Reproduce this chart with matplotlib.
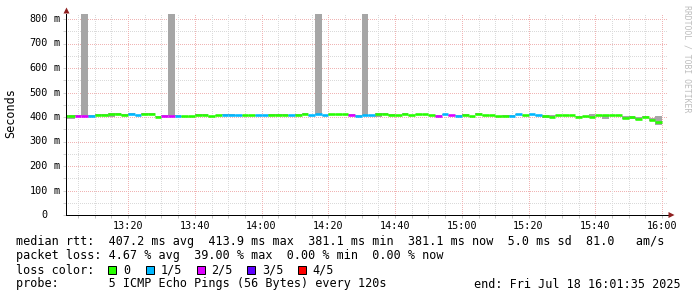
import matplotlib
matplotlib.use('Agg')
import matplotlib.pyplot as plt
from matplotlib.patches import Polygon, Rectangle
from matplotlib.transforms import IdentityTransform, offset_copy

# ---------------- data ----------------
step_minutes = 2                       # 120 s steps, minutes after 13:00
step_start = list(range(0, 180, 2))    # 90 steps 13:00 .. 15:58

median_ms = [406, 406, 406, 406, 405, 409, 409, 412, 412, 409,
             413, 407, 412, 412, 402, 406, 406, 406, 403, 403,
             407, 407, 403, 407, 410, 410, 407, 407, 407, 407,
             407, 407, 407, 407, 407, 409, 413, 407, 412, 407,
             411, 411, 411, 409, 405, 407, 407, 412, 412, 409,
             407, 412, 407, 411, 411, 407, 405, 411, 407, 406,
             408, 403, 413, 407, 407, 403, 405, 404, 411, 407,
             411, 407, 404, 400, 407, 407, 407, 402, 403, 402,
             407, 407, 407, 407, 397, 398, 392, 400, 388, 381]

loss_idx = [0, 0, 2, 2, 1, 0, 0, 0, 0, 0,
            1, 1, 0, 0, 0, 2, 2, 1, 0, 0,
            0, 0, 0, 0, 1, 1, 1, 0, 0, 1,
            1, 0, 0, 0, 1, 0, 0, 1, 1, 1,
            0, 0, 0, 2, 1, 1, 1, 0, 0, 0,
            0, 0, 0, 0, 0, 0, 2, 1, 2, 1,
            0, 0, 0, 0, 0, 0, 0, 1, 1, 0,
            1, 1, 0, 0, 0, 0, 0, 0, 0, 0,
            0, 0, 0, 0, 0, 0, 0, 0, 0, 0]

smoke_lo = [392, 392, 403, 404, 402, 406, 406, 401, 409, 406,
            410, 404, 409, 409, 399, 403, 404, 403, 400, 400,
            404, 404, 400, 404, 407, 407, 404, 404, 404, 404,
            404, 404, 404, 404, 404, 404, 410, 404, 409, 404,
            408, 408, 408, 406, 402, 404, 404, 401, 409, 406,
            404, 409, 404, 408, 408, 404, 402, 408, 404, 403,
            405, 400, 410, 404, 404, 400, 402, 401, 408, 404,
            408, 404, 396, 396, 404, 404, 404, 399, 400, 395,
            404, 393, 404, 404, 390, 392, 388, 396, 383, 368]

smoke_hi = [409, 409, 409, 1500, 408, 412, 412, 415, 415, 412,
            416, 410, 415, 415, 405, 409, 1500, 409, 406, 406,
            411, 411, 406, 410, 413, 413, 410, 410, 410, 410,
            410, 411, 411, 411, 410, 412, 416, 410, 1500, 410,
            414, 414, 414, 412, 408, 1500, 410, 415, 415, 412,
            410, 415, 410, 414, 414, 410, 408, 414, 410, 409,
            411, 406, 416, 410, 410, 406, 408, 407, 414, 410,
            414, 410, 407, 410, 410, 410, 410, 405, 406, 411,
            410, 410, 410, 410, 406, 405, 400, 404, 395, 403]

loss_labels = ['0', '1/5', '2/5', '3/5', '4/5']
loss_colors = ['#26ff00', '#00b8ff', '#dd00ff', '#5e00ff', '#ff0000']

x_major = [20, 40, 60, 80, 100, 120, 140, 160, 180]
x_labels = ['13:20', '13:40', '14:00', '14:20', '14:40', '15:00', '15:20', '15:40', '16:00']
x_minor = [5, 10, 15, 25, 30, 35, 45, 50, 55, 65, 70, 75, 85, 90, 95, 105, 110, 115,
           125, 130, 135, 145, 150, 155, 165, 170, 175]
y_values = [0, 100, 200, 300, 400, 500, 600, 700, 800]
y_units = ['', 'm', 'm', 'm', 'm', 'm', 'm', 'm', 'm']
y_minor = [50, 150, 250, 350, 450, 550, 650, 750]

line1 = "median rtt:  407.2 ms avg  413.9 ms max  381.1 ms min  381.1 ms now  5.0 ms sd  81.0   am/s"
line2 = "packet loss: 4.67 % avg  39.00 % max  0.00 % min  0.00 % now"
line3 = "loss color:"
line4 = "probe:       5 ICMP Echo Pings (56 Bytes) every 120s"
end_text = "end: Fri Jul 18 16:01:35 2025"
watermark = "RRDTOOL / TOBI OETIKER"

# ---------------- layout ----------------
W, H, DPI = 697, 297, 100
MONO = 'DejaVu Sans Mono'
PX = 72.0 / DPI  # points per pixel

fig = plt.figure(figsize=(W / DPI, H / DPI), dpi=DPI)
fig.patch.set_facecolor('white')

ax_l, ax_r, ax_b, ax_t = 66, 668, 215, 14
ax = fig.add_axes([ax_l / W, (H - ax_b) / H, (ax_r - ax_l) / W, (ax_b - ax_t) / H])
ax.set_facecolor('white')
px_per_min = 3.3375
x0 = 1.4
ax.set_xlim(x0, x0 + (ax_r - ax_l) / px_per_min)
ax.set_ylim(0, (ax_b - ax_t) / 0.245)

# grid (dotted)
dot = (0, (1, 2))
minor_c, major_c = '#dadada', '#f0b4b4'
for v in y_minor:
    ax.axhline(v, color=minor_c, lw=PX, ls=dot, zorder=0, antialiased=False)
for v in y_values[1:]:
    ax.axhline(v, color=major_c, lw=PX, ls=dot, zorder=0, antialiased=False)
for v in x_minor:
    ax.axvline(v, color=minor_c, lw=PX, ls=dot, zorder=0, antialiased=False)
for v in x_major:
    ax.axvline(v, color=major_c, lw=PX, ls=dot, zorder=0, antialiased=False)

# smoke
heights = [h - l for h, l in zip(smoke_hi, smoke_lo)]
ax.bar(step_start, heights, bottom=smoke_lo, width=step_minutes, align='edge',
       color='#a6a6a6', linewidth=0, zorder=2)

# median line coloured by loss
ends = [s + step_minutes for s in step_start]
ax.hlines(median_ms, step_start, ends, colors=[loss_colors[i] for i in loss_idx],
          lw=2.6 * PX, zorder=3, capstyle='butt')

# axes styling
for s in ['top', 'right']:
    ax.spines[s].set_visible(False)
for s in ['left', 'bottom']:
    ax.spines[s].set_color('#000000')
    ax.spines[s].set_linewidth(PX)
    ax.spines[s].set_zorder(5)

ax.set_xticks(x_major, labels=x_labels)
ax.set_xticks(x_minor, minor=True)
ax.set_yticks(y_values, labels=[''] * len(y_values))
ax.set_yticks(y_minor, minor=True)
ax.tick_params(axis='x', which='both', length=3 * PX, width=PX, color='#c4c4c4',
               pad=2.7 * PX, labelsize=7.3)
ax.tick_params(axis='y', which='both', length=3 * PX, width=PX, color='#d0d0d0')
for lab in ax.get_xticklabels():
    lab.set_family(MONO)
    lab.set_color('#000000')

# y labels: number + unit
tr_num = offset_copy(ax.get_yaxis_transform(), fig=fig, x=-18, y=0, units='dots')
tr_unit = offset_copy(ax.get_yaxis_transform(), fig=fig, x=-6, y=0, units='dots')
for v, u in zip(y_values, y_units):
    ax.text(0, v, str(v), transform=tr_num, ha='right', va='center',
            family=MONO, fontsize=7.3, clip_on=False)
    if u:
        ax.text(0, v, u, transform=tr_unit, ha='right', va='center',
                family=MONO, fontsize=7.3, clip_on=False)

# arrows
idt = IdentityTransform()
def P(x, y):
    return (x, H - y)
fig.add_artist(Polygon([P(66.5, 7.5), P(63.5, 13.5), P(69.5, 13.5)], closed=True,
                       transform=idt, color='#8f2020', lw=0))
fig.add_artist(Polygon([P(674.5, 215), P(668.5, 212), P(668.5, 218)], closed=True,
                       transform=idt, color='#8f2020', lw=0))

# y label and watermark
fig.text(11 / W, 1 - 113 / H, 'Seconds', rotation=90, ha='center', va='center',
         family=MONO, fontsize=8.5)
fig.text(687 / W, 1 - 59 / H, watermark, rotation=270, ha='center', va='center',
         family=MONO, fontsize=5.9, color='#bdbdbd')

# legend / stats text
fs = 8.5
bl = [245.5, 259.5, 273.5, 287.5]
fig.text(16 / W, 1 - bl[0] / H, line1, family=MONO, fontsize=fs, va='baseline')
fig.text(16 / W, 1 - bl[1] / H, line2, family=MONO, fontsize=fs, va='baseline')
fig.text(16 / W, 1 - bl[2] / H, line3, family=MONO, fontsize=fs, va='baseline')
fig.text(16 / W, 1 - bl[3] / H, line4, family=MONO, fontsize=fs, va='baseline')
fig.text(681 / W, 1 - bl[3] / H, end_text, family=MONO, fontsize=fs, va='baseline', ha='right')

sq_x = [108.3, 145.8, 196.5, 247.2, 297.8]
for sx, lab, col in zip(sq_x, loss_labels, loss_colors):
    fig.add_artist(Rectangle((sx, H - 273.5), 8, 8, transform=idt, facecolor=col,
                             edgecolor='#000000', lw=PX))
    fig.text((sx + 14.5) / W, 1 - bl[2] / H, lab, family=MONO, fontsize=fs, va='baseline')

fig.savefig('out.png', dpi=DPI, facecolor='white')
